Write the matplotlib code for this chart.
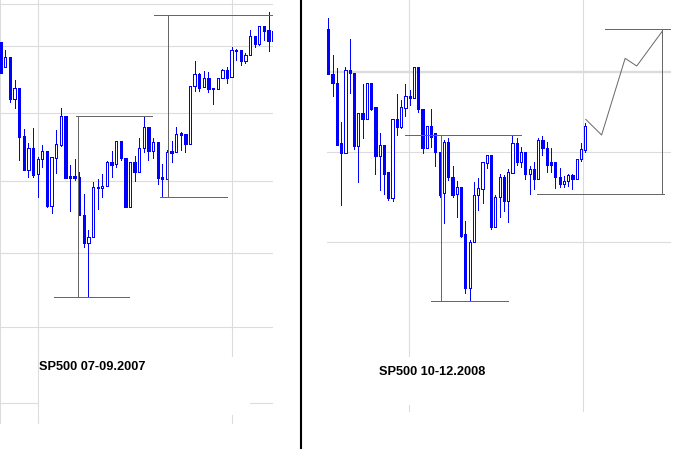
import matplotlib
matplotlib.use("Agg")
import matplotlib.pyplot as plt
from matplotlib.patches import Rectangle
from matplotlib.lines import Line2D

# ---------------- data: left panel (SP500 07-09.2007) ----------------
left_open = [1375, 1298, 1328, 1203, 1235, 1092, 990, 1055, 977, 1022,
             1047, 883, 1027, 1065, 1152, 972, 972, 970, 855, 770,
             790, 940, 935, 941, 1013, 1007, 1076, 1025, 880, 1013,
             985, 1055, 1118, 1048, 1073, 969, 962, 1047, 1045, 1100,
             1097, 1067, 1241, 1278, 1238, 1265, 1235, 1232, 1265, 1290,
             1268, 1350, 1349, 1318, 1334, 1392, 1367, 1421, 1409, 1378]
left_high = [1375, 1350, 1328, 1260, 1235, 1113, 1070, 1115, 1030, 1065,
             1047, 1029, 1110, 1175, 1152, 1005, 1023, 985, 918, 810,
             955, 962, 978, 1018, 1047, 1076, 1076, 1025, 1013, 1032,
             1086, 1150, 1118, 1086, 1073, 1008, 1050, 1077, 1118, 1103,
             1097, 1241, 1317, 1282, 1287, 1283, 1235, 1265, 1293, 1298,
             1359, 1353, 1349, 1340, 1409, 1392, 1421, 1421, 1464, 1407]
left_low = [1280, 1298, 1195, 1175, 1020, 990, 970, 970, 910, 1000,
            880, 860, 982, 1063, 967, 868, 960, 855, 760, 610,
            790, 872, 910, 941, 970, 998, 1020, 878, 880, 958,
            985, 1045, 1020, 1027, 948, 910, 962, 1015, 1045, 1050,
            1045, 1067, 1228, 1228, 1238, 1225, 1189, 1232, 1265, 1250,
            1268, 1320, 1306, 1312, 1334, 1358, 1365, 1380, 1348, 1378]
left_close = [1280, 1328, 1203, 1235, 1090, 990, 1055, 975, 1022, 1047,
              882, 1029, 1067, 1152, 967, 967, 967, 855, 770, 790,
              938, 935, 942, 1013, 1005, 1076, 1025, 880, 1013, 985,
              1055, 1118, 1048, 1073, 967, 962, 1043, 1042, 1097, 1095,
              1067, 1241, 1277, 1235, 1265, 1232, 1232, 1265, 1290, 1267,
              1350, 1347, 1317, 1335, 1392, 1369, 1421, 1407, 1378, 1407]

# ---------------- data: right panel (SP500 10-12.2008) ----------------
right_open = [1413, 1277, 1250, 1070, 1042, 1289, 1281, 1063, 1160, 1142,
              1250, 1178, 1033, 1064, 983, 907, 1142, 1120, 1175, 1211,
              1205, 1298, 1173, 1055, 1121, 1100, 1043, 920, 1073, 970,
              918, 938, 798, 635, 773, 916, 932, 1010, 1034, 820,
              908, 968, 898, 980, 1070, 1015, 1043, 977, 992, 964,
              1080, 1055, 1014, 1013, 968, 948, 957, 974, 964, 1022, 1050]
right_high = [1447, 1335, 1295, 1134, 1298, 1383, 1281, 1160, 1248, 1250,
              1250, 1178, 1100, 1064, 983, 1142, 1217, 1200, 1248, 1230,
              1298, 1298, 1173, 1121, 1173, 1100, 1043, 1080, 1085, 1002,
              957, 938, 837, 780, 954, 965, 1013, 1034, 1034, 915,
              978, 975, 993, 1095, 1085, 1060, 1043, 1003, 1015, 1085,
              1093, 1075, 1055, 1013, 995, 972, 978, 978, 1022, 1072, 1130]
right_low = [1277, 1212, 1066, 885, 1042, 1220, 1054, 955, 1087, 1142,
             1170, 978, 930, 917, 900, 898, 1095, 1115, 1152, 1185,
             1205, 1165, 1042, 1055, 1060, 1003, 910, 830, 960, 910,
             850, 790, 620, 600, 773, 870, 890, 995, 813, 820,
             850, 868, 835, 980, 1005, 1000, 964, 917, 932, 964,
             1035, 985, 985, 935, 940, 938, 942, 932, 964, 1018, 1045]
right_close = [1277, 1250, 1066, 1042, 1289, 1280, 1063, 1160, 1142, 1250,
               1173, 1033, 1064, 979, 907, 1142, 1120, 1178, 1211, 1205,
               1298, 1172, 1055, 1121, 1088, 1043, 915, 1073, 970, 915,
               938, 793, 635, 773, 916, 935, 1013, 1034, 820, 908,
               968, 898, 983, 1070, 1015, 1043, 977, 992, 964, 1080,
               1055, 1005, 1006, 968, 948, 957, 974, 964, 1022, 1052, 1122]

# annotation levels: (value, x_from, x_to) and (x, y_from, y_to)
left_hlevels = [(1151, 16.37, 32.7), (608, 11.54, 27.72), (1454, 33.2, 59.5), (908, 34.5, 48.95)]
left_vlevels = [(16.8, 608, 1151), (36.3, 913, 1454)]
right_hlevels = [(1094, 17.9, 44.9), (597, 23.98, 41.9), (918, 48.8, 78.4), (1414, 64.6, 79.9)]
right_vlevels = [(26.24, 597, 1094), (77.98, 918, 1414)]
proj_x = [60.1, 63.8, 69.3, 72.0, 78.0]
proj_y = [1142, 1095, 1325, 1302, 1407]

left_title = "SP500 07-09.2007"
right_title = "SP500 10-12.2008"

W, H = 677, 457
BLUE = "#0000ff"
GRID = "#dcdcdc"
ANN = "#676767"
THIN = 0.55

fig = plt.figure(figsize=(W / 100, H / 100), dpi=100)
fig.patch.set_facecolor("white")


def px_axes(x0, y0, x1, y1):
    return fig.add_axes([x0 / W, 1 - y1 / H, (x1 - x0) / W, (y1 - y0) / H])


def candles(ax, o, h, l, c, width):
    for i in range(len(o)):
        ax.vlines(i, l[i], h[i], color=BLUE, lw=THIN, zorder=3,
                  antialiased=False)
        lo, hi = min(o[i], c[i]), max(o[i], c[i])
        bull = c[i] > o[i]
        ax.bar(i, max(hi - lo, 3), bottom=lo, width=width,
               facecolor="white" if bull else BLUE, edgecolor=BLUE,
               linewidth=THIN, zorder=4, antialiased=False)


def bare(ax):
    for s in ax.spines.values():
        s.set_visible(False)
    ax.set_xticks([])
    ax.set_yticks([])
    ax.patch.set_alpha(0)


# ---------- left ----------
axL = px_axes(0, 0, 273, 424)
bare(axL)
axL.set_xlim(-0.156, 58.97)
axL.set_ylim(228, 1500)
for v in [1488, 1362, 1161, 957, 741, 519, 291]:
    axL.axhline(v, color=GRID, lw=0.8, zorder=1)
for x in [-0.05, 8.0, 50.16]:
    axL.axvline(x, color=GRID, lw=0.8, zorder=1)
candles(axL, left_open, left_high, left_low, left_close, 0.5)
for v, a, b in left_hlevels:
    axL.hlines(v, a, b, color=ANN, lw=THIN, zorder=5, antialiased=False)
for x, a, b in left_vlevels:
    axL.vlines(x, a, b, color=ANN, lw=THIN, zorder=5, antialiased=False)

# ---------- right ----------
axR = px_axes(327, 0, 671, 412)
bare(axR)
axR.set_xlim(-0.3, 80.0)
axR.set_ylim(264, 1500)
axR.axhline(1284, color=GRID, lw=1.7, zorder=1)
for v in [1044, 773]:
    axR.axhline(v, color=GRID, lw=0.8, zorder=1)
for x in [18.9, 59.5]:
    axR.axvline(x, color=GRID, lw=0.8, zorder=1)
candles(axR, right_open, right_high, right_low, right_close, 0.52)
for v, a, b in right_hlevels:
    axR.hlines(v, a, b, color=ANN, lw=THIN, zorder=5, antialiased=False)
for x, a, b in right_vlevels:
    axR.vlines(x, a, b, color=ANN, lw=THIN, zorder=5, antialiased=False)
axR.plot(proj_x, proj_y, color=ANN, lw=0.7, zorder=5)

# white label boxes over the grid
fig.add_artist(Rectangle((38.5 / W, 1 - 415 / H), 211.5 / W, 58 / H,
                         transform=fig.transFigure, facecolor="white",
                         edgecolor="none", zorder=2))
fig.add_artist(Rectangle((340 / W, 1 - 405 / H), 220 / W, 48 / H,
                         transform=fig.transFigure, facecolor="white",
                         edgecolor="none", zorder=2))

# separator
fig.add_artist(Line2D([300.5 / W, 300.5 / W], [1, 1 - 448 / H],
                      transform=fig.transFigure, color="black", lw=1.5, zorder=3))

fig.text(39 / W, 1 - 370 / H, left_title, fontsize=9.2, fontweight="bold",
         family="Liberation Sans", va="baseline", ha="left", zorder=6)
fig.text(379 / W, 1 - 375 / H, right_title, fontsize=9.2, fontweight="bold",
         family="Liberation Sans", va="baseline", ha="left", zorder=6)

fig.savefig("out.png", dpi=100, facecolor="white")
